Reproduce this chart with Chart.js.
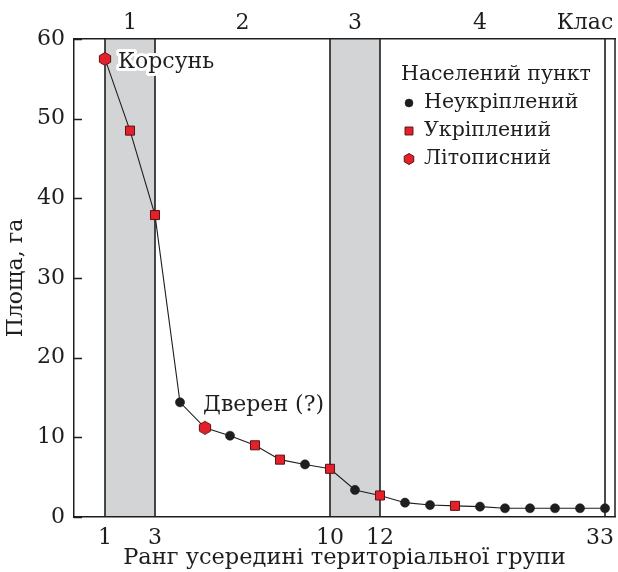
<!DOCTYPE html>
<html>
<head>
<meta charset="utf-8">
<script src="https://cdn.jsdelivr.net/npm/chart.js@4.4.0/dist/chart.umd.min.js"></script>
<style>
html, body { margin: 0; padding: 0; background: #fff; }
#wrap { width: 618px; height: 572px; }
</style>
</head>
<body>
<div id="wrap"><canvas id="rankChart" width="618" height="572"></canvas></div>
<script>
// дані: ранг усередині групи, площа (га), тип поселення
const ranks = [1, 2, 3, 4, 5, 6, 7, 8, 9, 10, 11, 12, 13, 14, 15, 16, 17, 18, 19, 20, 21];
const area = [57.5, 48.5, 37.9, 14.4, 11.2, 10.2, 9.0, 7.2, 6.6, 6.05, 3.4, 2.7, 1.8, 1.5, 1.4, 1.3, 1.1, 1.1, 1.1, 1.1, 1.1];
const kinds = ["l", "u", "u", "n", "l", "n", "u", "u", "n", "u", "n", "u", "n", "n", "u", "n", "n", "n", "n", "n", "n"];
const kindNames = { n: "Неукріплений", u: "Укріплений", l: "Літописний" };
const rankTicks = [1, 3, 10, 12, 20.8];
const rankTickLabels = ["1", "3", "10", "12", "33"];
const classPos = [2, 6.5, 11, 16, 20.2];
const classLabels = ["1", "2", "3", "4", "Клас"];
const classLines = [1, 3, 10, 12, 21];
const bands = [[1, 3], [10, 12]];
const notes = [{ i: 0, text: "Корсунь", dx: 13, dy: 3 }, { i: 4, text: "Дверен (?)", dx: -2, dy: -22 }];

const RED = "#e3212b";
const DARK = "#1e1e1e";
const FONT = "'DejaVu Serif', 'Liberation Serif', serif";

function hexagon(r) {
    const c = document.createElement("canvas");
    const s = Math.ceil(r * 2 + 3);
    c.width = s; c.height = s;
    const g = c.getContext("2d");
    g.beginPath();
    for (let k = 0; k < 6; k++) {
        const a = Math.PI / 2 + k * Math.PI / 3;
        g.lineTo(s / 2 + r * Math.cos(a), s / 2 - r * Math.sin(a));
    }
    g.closePath();
    g.fillStyle = RED;
    g.fill();
    g.strokeStyle = "#5a1212";
    g.lineWidth = 1;
    g.stroke();
    return c;
}
const hexBig = hexagon(6.5);
const hexSmall = hexagon(5.5);

const markerStyle = {
    n: { pointStyle: "circle", radius: 4.6, backgroundColor: DARK, borderColor: DARK, borderWidth: 0.5 },
    u: { pointStyle: "rect", radius: 6.4, backgroundColor: RED, borderColor: "#5a1212", borderWidth: 1 },
    l: { pointStyle: hexBig, radius: 7, backgroundColor: RED, borderColor: "#5a1212", borderWidth: 1 }
};

function pointsOf(kind) {
    return ranks.map((r, i) => ({ x: r, y: area[i], k: kinds[i] })).filter(p => p.k === kind);
}

const markerSets = ["n", "u", "l"].map(k => ({
    label: kindNames[k],
    data: pointsOf(k),
    pointStyle: markerStyle[k].pointStyle,
    pointRadius: markerStyle[k].radius,
    pointBackgroundColor: markerStyle[k].backgroundColor,
    pointBorderColor: markerStyle[k].borderColor,
    pointBorderWidth: markerStyle[k].borderWidth,
    showLine: false,
    clip: false
}));

const lineSet = {
    label: "line",
    data: ranks.map((r, i) => ({ x: r, y: area[i] })),
    showLine: true,
    borderColor: DARK,
    borderWidth: 1.1,
    pointRadius: 0,
    fill: false
};

const decor = {
    id: "decor",
    beforeDraw(chart) {
        const { ctx, chartArea: a, scales: { x } } = chart;
        ctx.save();
        ctx.fillStyle = "#d3d4d6";
        bands.forEach(b => {
            const x1 = x.getPixelForValue(b[0]);
            const x2 = x.getPixelForValue(b[1]);
            ctx.fillRect(x1, a.top, x2 - x1, a.bottom - a.top);
        });
        ctx.strokeStyle = DARK;
        ctx.lineWidth = 1.6;
        ctx.beginPath();
        classLines.forEach(v => {
            const px = Math.round(x.getPixelForValue(v));
            ctx.moveTo(px, a.top);
            ctx.lineTo(px, a.bottom);
        });
        ctx.stroke();
        ctx.restore();
    },
    afterDraw(chart) {
        const { ctx, chartArea: a, scales: { x, y } } = chart;
        ctx.save();
        // права рамка та внутрішні поділки осі Y
        ctx.strokeStyle = DARK;
        ctx.lineWidth = 1.5;
        ctx.beginPath();
        ctx.moveTo(a.right, a.top);
        ctx.lineTo(a.right, a.bottom);
        y.ticks.forEach(t => {
            const py = Math.round(y.getPixelForValue(t.value)) + 0.5;
            ctx.moveTo(a.left, py);
            ctx.lineTo(a.left + 8, py);
        });
        ctx.stroke();

        // підписи точок
        ctx.font = "22px " + FONT;
        ctx.textBaseline = "middle";
        ctx.lineJoin = "round";
        notes.forEach(n => {
            const px = x.getPixelForValue(ranks[n.i]) + n.dx;
            const py = y.getPixelForValue(area[n.i]) + n.dy;
            ctx.strokeStyle = "#fff";
            ctx.lineWidth = 6;
            ctx.strokeText(n.text, px, py);
            ctx.fillStyle = DARK;
            ctx.fillText(n.text, px, py);
        });

        // легенда
        const lx = 409, ly = 75;
        ctx.fillStyle = DARK;
        ctx.font = "20.5px " + FONT;
        ctx.textAlign = "left";
        ctx.fillText("Населений пункт", 401, ly);
        const small = {
            n: { pointStyle: "circle", radius: 4, borderWidth: 0.5 },
            u: { pointStyle: "rect", radius: 5.6, borderWidth: 1 },
            l: { pointStyle: hexSmall, radius: 6, borderWidth: 1 }
        };
        ["n", "u", "l"].forEach((k, j) => {
            const py = ly + 28 + j * 28;
            ctx.fillStyle = markerStyle[k].backgroundColor;
            ctx.strokeStyle = markerStyle[k].borderColor;
            ctx.lineWidth = small[k].borderWidth;
            Chart.helpers.drawPoint(ctx, { pointStyle: small[k].pointStyle, radius: small[k].radius, rotation: 0, borderWidth: small[k].borderWidth }, lx, py);
            ctx.fillStyle = DARK;
            ctx.fillText(kindNames[k], lx + 15, py);
        });
        ctx.restore();
    }
};

const tickFont = { family: FONT, size: 22 };
const noPad = s => { s.paddingLeft = 0; s.paddingRight = 0; };

new Chart(document.getElementById("rankChart").getContext("2d"), {
    type: "scatter",
    data: { datasets: [...markerSets, lineSet] },
    options: {
        responsive: false,
        animation: false,
        devicePixelRatio: 1,
        layout: { autoPadding: false, padding: { left: 0, right: 3, top: 0, bottom: 0 } },
        plugins: { legend: { display: false }, tooltip: { enabled: false } },
        scales: {
            x: {
                type: "linear",
                position: "bottom",
                min: -0.24,
                max: 21.4,
                afterBuildTicks: s => { s.ticks = rankTicks.map(v => ({ value: v })); },
                afterFit: s => { s.height = 55; noPad(s); },
                ticks: {
                    autoSkip: false,
                    maxRotation: 0,
                    padding: 8,
                    color: DARK,
                    font: tickFont,
                    callback: v => rankTickLabels[rankTicks.indexOf(v)]
                },
                grid: { display: false, drawTicks: false },
                border: { display: true, color: DARK, width: 1.5 },
                title: {
                    display: true,
                    text: "Ранг усередині територіальної групи",
                    color: DARK,
                    font: { family: FONT, size: 22.5 },
                    padding: { top: 0, bottom: 0 }
                }
            },
            x2: {
                type: "linear",
                position: "top",
                min: -0.24,
                max: 21.4,
                afterBuildTicks: s => { s.ticks = classPos.map(v => ({ value: v })); },
                afterFit: s => { s.height = 39; noPad(s); },
                ticks: {
                    autoSkip: false,
                    maxRotation: 0,
                    padding: 3,
                    color: DARK,
                    font: tickFont,
                    callback: v => classLabels[classPos.indexOf(v)]
                },
                grid: { display: false, drawTicks: false },
                border: { display: true, color: DARK, width: 1.5 }
            },
            y: {
                min: 0,
                max: 60,
                afterFit: s => { s.width = 74; },
                ticks: { stepSize: 10, padding: 9, color: DARK, font: tickFont },
                grid: { display: false, drawTicks: false },
                border: { display: true, color: DARK, width: 1.5 },
                title: {
                    display: true,
                    text: "Площа, га",
                    color: DARK,
                    font: { family: FONT, size: 22 },
                    padding: { top: 3, bottom: 0 }
                }
            }
        }
    },
    plugins: [decor]
});
</script>
</body>
</html>
